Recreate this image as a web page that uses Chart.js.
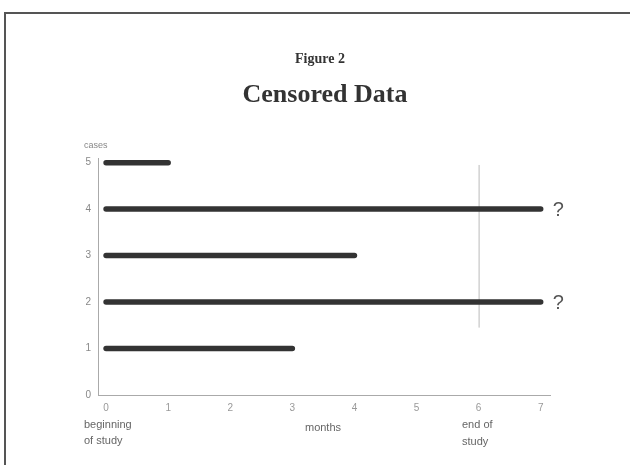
<!DOCTYPE html>
<html>
<head>
<meta charset="utf-8">
<script src="https://cdn.jsdelivr.net/npm/chart.js@4"></script>
<style>
  html, body { margin: 0; padding: 0; background: #fff; }
  #wrap { width: 630px; height: 465px; position: relative; }
</style>
</head>
<body>
<div id="wrap"><canvas id="chart" width="630" height="465"></canvas></div>
<script>
// --- Data ---
const cases = [1, 2, 3, 4, 5];
const startMonths = [0, 0, 0, 0, 0];
const endMonths = [3, 7, 4, 7, 1];
const censored = [false, true, false, true, false]; // still going at end of study
const xTicks = [0, 1, 2, 3, 4, 5, 6, 7];
const yTicks = [0, 1, 2, 3, 4, 5];
const studyEnd = 6;

const titleTop = 'Figure 2';
const titleMain = 'Censored Data';

// one line dataset per case
const datasets = cases.map((c, i) => ({
    label: 'case ' + c,
    data: [{ x: startMonths[i], y: c }, { x: endMonths[i], y: c }],
    borderColor: '#333',
    borderWidth: 5.5,
    borderCapStyle: 'round',
    pointRadius: 0,
    fill: false
}));

// Frame, titles, end-of-study line and text labels
const decorations = {
    id: 'decorations',
    beforeDatasetsDraw(chart) {
        const { ctx, scales: { x, y } } = chart;
        const px = x.getPixelForValue(studyEnd);
        ctx.save();
        ctx.strokeStyle = '#bbb';
        ctx.lineWidth = 1;
        ctx.beginPath();
        ctx.moveTo(px + 0.5, y.getPixelForValue(4.95));
        ctx.lineTo(px + 0.5, y.getPixelForValue(1.45));
        ctx.stroke();
        ctx.restore();
    },
    afterDraw(chart) {
        const { ctx, scales: { x, y } } = chart;
        ctx.save();

        // page frame
        ctx.strokeStyle = '#555';
        ctx.lineWidth = 2;
        ctx.beginPath();
        ctx.moveTo(5, 465);
        ctx.lineTo(5, 13);
        ctx.lineTo(630, 13);
        ctx.stroke();

        // titles
        ctx.fillStyle = '#333';
        ctx.textAlign = 'center';
        ctx.textBaseline = 'middle';
        ctx.font = 'bold 14px "Liberation Serif", serif';
        ctx.fillText(titleTop, 320, 59);
        ctx.font = 'bold 26px "Liberation Serif", serif';
        ctx.fillText(titleMain, 325, 95);

        // axis titles
        ctx.fillStyle = '#888';
        ctx.font = '9px "Liberation Sans", Arial, sans-serif';
        ctx.textAlign = 'left';
        ctx.fillText('cases', 84, 146);

        ctx.fillStyle = '#666';
        ctx.font = '11px "Liberation Sans", Arial, sans-serif';
        ctx.fillText('beginning', 84, 425);
        ctx.fillText('of study', 84, 441);
        ctx.fillText('end of', 462, 425);
        ctx.fillText('study', 462, 442);
        ctx.textAlign = 'center';
        ctx.fillText('months', 323, 428);

        // question marks for censored cases
        ctx.fillStyle = '#555';
        ctx.font = '20px "Liberation Sans", Arial, sans-serif';
        ctx.textAlign = 'left';
        cases.forEach((c, i) => {
            if (censored[i]) {
                ctx.fillText('?', x.getPixelForValue(endMonths[i]) + 12, y.getPixelForValue(c) + 1);
            }
        });
        ctx.restore();
    }
};

new Chart(document.getElementById('chart').getContext('2d'), {
    type: 'line',
    data: { datasets: datasets },
    options: {
        responsive: false,
        animation: false,
        layout: { padding: { top: 158, right: 80, left: 0, bottom: 0 } },
        plugins: { legend: { display: false }, tooltip: { enabled: false } },
        scales: {
            x: {
                type: 'linear',
                min: -0.13,
                max: 7.15,
                afterBuildTicks: s => { s.ticks = xTicks.map(v => ({ value: v })); },
                afterFit: s => { s.height = 70; },
                grid: { display: false, drawTicks: false },
                border: { display: true, color: '#aaa', width: 1 },
                ticks: {
                    padding: 7,
                    color: '#999',
                    font: { size: 10, family: '"Liberation Sans", Arial, sans-serif' }
                }
            },
            y: {
                type: 'linear',
                min: 0,
                max: 5.1,
                afterBuildTicks: s => { s.ticks = yTicks.map(v => ({ value: v })); },
                afterFit: s => { s.width = 98; },
                grid: { display: false, drawTicks: false },
                border: { display: true, color: '#aaa', width: 1 },
                ticks: {
                    padding: 7,
                    color: '#888',
                    font: { size: 10, family: '"Liberation Sans", Arial, sans-serif' }
                }
            }
        }
    },
    plugins: [decorations]
});
</script>
</body>
</html>
